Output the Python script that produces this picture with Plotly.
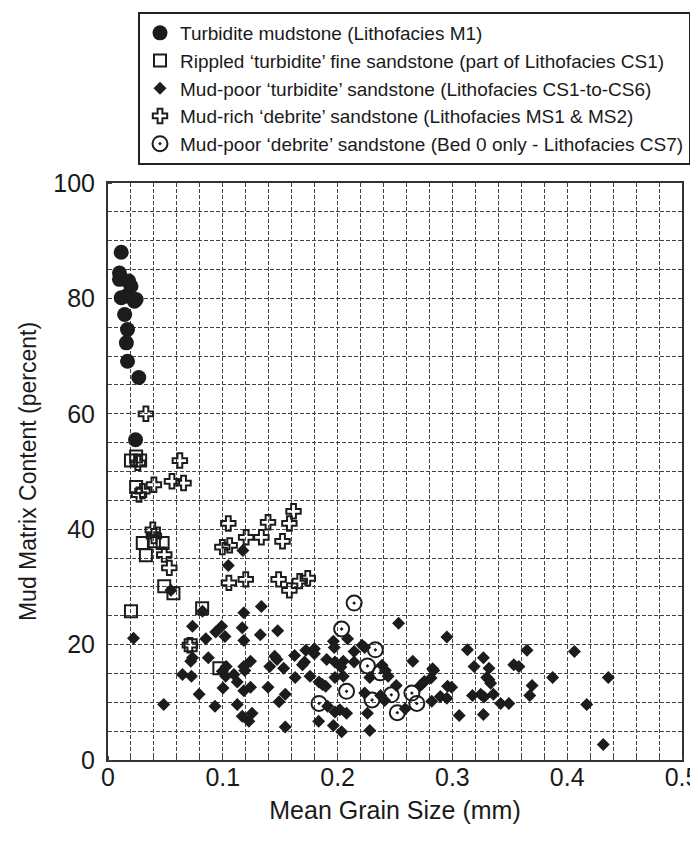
import plotly.graph_objects as go

# --- Data ---
m1_x = [0.0115, 0.010, 0.010, 0.018, 0.020, 0.023, 0.0245, 0.0115, 0.016, 0.0145, 0.017, 0.016, 0.017, 0.0268, 0.024]
m1_y = [88.0, 84.4, 83.3, 83.0, 82.1, 79.5, 79.8, 80.1, 80.4, 77.2, 74.6, 72.3, 69.1, 66.3, 55.5]

cs1_x = [0.020, 0.028, 0.0245, 0.0245, 0.0303, 0.0476, 0.040, 0.033, 0.049, 0.057, 0.020, 0.082, 0.072, 0.097]
cs1_y = [51.9, 51.9, 52.6, 47.3, 37.6, 37.6, 37.9, 35.5, 30.1, 28.9, 25.8, 26.3, 19.9, 15.9]

cs16_x = [0.1175, 0.1048, 0.0548, 0.0222, 0.0823, 0.1183, 0.1336, 0.0736, 0.099, 0.0938,
          0.1019, 0.0852, 0.1169, 0.1183, 0.1327, 0.1478, 0.0736, 0.0721, 0.0874, 0.0649,
          0.0727, 0.0794, 0.0485, 0.0932, 0.103, 0.0996, 0.1025, 0.1097, 0.1126, 0.1002,
          0.1183, 0.1192, 0.1241, 0.1183, 0.1241, 0.1126, 0.1169, 0.1255, 0.1227, 0.1452,
          0.1472, 0.1409, 0.153, 0.1625, 0.163, 0.1394, 0.1544, 0.149, 0.1544,
          0.2531, 0.1963, 0.1971, 0.2087, 0.2214, 0.2236, 0.2144, 0.1723, 0.1798, 0.1798,
          0.1712, 0.1694, 0.1905, 0.1977, 0.205, 0.2029, 0.2144, 0.176, 0.1977, 0.205,
          0.1838, 0.1868, 0.1896, 0.1913, 0.1977, 0.202, 0.2078, 0.1835, 0.1963, 0.2035,
          0.226, 0.228, 0.2236, 0.228, 0.2375, 0.2387, 0.2416, 0.244, 0.241, 0.2511,
          0.2589, 0.2655, 0.2721, 0.2742, 0.2756, 0.2814, 0.2828, 0.2837, 0.282, 0.2895,
          0.2952, 0.2958, 0.2993, 0.2952, 0.3059, 0.3131, 0.3175, 0.3189,
          0.327, 0.3319, 0.3299, 0.3319, 0.3333, 0.3247, 0.3276, 0.3357, 0.327, 0.342,
          0.3492, 0.3535, 0.3579, 0.365, 0.3694, 0.3674, 0.3873, 0.4063, 0.417, 0.4358, 0.4314]
cs16_y = [36.3, 33.7, 29.4, 21.1, 25.8, 25.5, 26.6, 23.2, 23.2, 22.2,
          21.4, 21.0, 22.9, 20.7, 21.7, 22.4, 17.7, 17.1, 17.7, 14.8,
          14.5, 11.4, 9.6, 9.3, 16.2, 15.4, 14.5, 14.8, 13.5, 12.5,
          16.2, 15.5, 17.1, 12.0, 12.6, 9.6, 7.6, 8.1, 6.7, 18.0,
          17.4, 16.2, 15.9, 18.1, 14.3, 12.6, 11.4, 10.1, 5.7,
          23.7, 20.6, 19.5, 21.0, 19.9, 19.5, 18.8, 19.0, 19.3, 18.4,
          17.0, 16.5, 17.4, 17.0, 17.1, 16.1, 17.0, 14.5, 14.3, 14.5,
          13.5, 13.1, 12.8, 9.3, 8.3, 8.7, 8.1, 6.7, 6.0, 4.9,
          8.1, 5.1, 11.6, 14.3, 11.2, 16.4, 15.5, 14.5, 10.3, 12.9,
          8.9, 17.1, 12.9, 13.3, 13.6, 14.2, 15.8, 15.5, 10.2, 11.0,
          10.7, 12.8, 12.6, 21.3, 7.7, 19.1, 11.2, 16.2,
          17.7, 15.9, 14.3, 13.9, 13.3, 11.4, 10.9, 11.4, 7.9, 9.8,
          9.8, 16.5, 16.2, 19.0, 12.9, 11.2, 14.3, 18.8, 9.6, 14.3, 2.7]

ms_x = [0.033, 0.0626, 0.026, 0.0557, 0.0658, 0.040, 0.030, 0.027, 0.039, 0.040, 0.049, 0.0534,
        0.1048, 0.1203, 0.1336, 0.1394, 0.1616, 0.158, 0.152, 0.0996, 0.106, 0.1053, 0.120,
        0.1486, 0.158, 0.167, 0.174, 0.0713]
ms_y = [60.0, 51.9, 51.5, 48.3, 48.0, 47.7, 46.6, 46.0, 39.9, 38.8, 35.6, 33.3,
        41.0, 38.6, 38.6, 41.2, 43.1, 41.0, 37.9, 36.9, 37.2, 30.7, 31.3,
        31.3, 29.4, 31.0, 31.5, 19.9]

cs7_x = [0.2144, 0.2035, 0.2329, 0.226, 0.2372, 0.2078, 0.1838, 0.230, 0.2468, 0.252, 0.2647, 0.269]
cs7_y = [27.2, 22.7, 19.1, 16.3, 15.1, 11.9, 9.8, 10.4, 11.3, 8.2, 11.6, 9.8]

x_ticks = [0, 0.1, 0.2, 0.3, 0.4, 0.5]
x_ticklabels = ["0", "0.1", "0.2", "0.3", "0.4", "0.5"]
y_ticks = [0, 20, 40, 60, 80, 100]
y_ticklabels = ["0", "20", "40", "60", "80", "100"]

names = [
    "Turbidite mudstone (Lithofacies M1)",
    "Rippled ‘turbidite’ fine sandstone (part of Lithofacies CS1)",
    "Mud-poor ‘turbidite’ sandstone (Lithofacies CS1-to-CS6)",
    "Mud-rich ‘debrite’ sandstone (Lithofacies MS1 & MS2)",
    "Mud-poor ‘debrite’ sandstone (Bed 0 only - Lithofacies CS7)",
]

INK = "#1c1c1c"
fig = go.Figure()
fig.add_trace(go.Scatter(x=m1_x, y=m1_y, mode="markers", name=names[0], legendgroup="g0",
                         marker=dict(symbol="circle", size=15, color=INK)))
fig.add_trace(go.Scatter(x=cs1_x, y=cs1_y, mode="markers", name=names[1], legendgroup="g1",
                         marker=dict(symbol="square-open", size=12, color=INK, line=dict(width=2, color=INK))))
fig.add_trace(go.Scatter(x=cs16_x, y=cs16_y, mode="markers", name=names[2], legendgroup="g2",
                         marker=dict(symbol="diamond", size=10, color=INK)))
fig.add_trace(go.Scatter(x=ms_x, y=ms_y, mode="markers", name=names[3], legendgroup="g3",
                         marker=dict(symbol="cross-open", size=12, color=INK, line=dict(width=2, color=INK))))
fig.add_trace(go.Scatter(x=cs7_x, y=cs7_y, mode="markers", name=names[4], legendgroup="g4",
                         marker=dict(symbol="circle-open-dot", size=15, color=INK, line=dict(width=2, color=INK))))

FONT = "Liberation Sans, Arial, sans-serif"
grid_common = dict(gridcolor="#444", griddash="4px,2px", gridwidth=1.3)

L, R, T, B = 100, 24, 175, 99
W, H = 698, 851
pw, ph = W - L - R, H - T - B

fig.update_layout(
    width=W, height=H,
    margin=dict(l=L, r=R, t=T, b=B, autoexpand=False),
    paper_bgcolor="white", plot_bgcolor="white",
    font=dict(family=FONT, color="#1a1a1a", size=25),
    showlegend=True,
    legend=dict(
        x=(130 - L) / pw, y=1 + (T - 4) / ph, xref="paper", yref="paper",
        xanchor="left", yanchor="top",
        bgcolor="white", bordercolor="#222", borderwidth=2,
        font=dict(family=FONT, size=19, color="#1a1a1a"),
        itemwidth=30, traceorder="grouped", tracegroupgap=0,
    ),
    xaxis=dict(
        range=[0, 0.5], tickmode="array", tickvals=x_ticks, ticktext=x_ticklabels,
        ticklabeloverflow="allow",
        showgrid=True, **grid_common,
        minor=dict(dtick=0.02, tick0=0, showgrid=True, **grid_common, ticks="inside", ticklen=4, tickcolor="#444"),
        showline=True, linecolor="#333", linewidth=2, mirror=True,
        ticks="", zeroline=False,
        title=dict(text="Mean Grain Size (mm)", font=dict(size=25), standoff=11),
        ticklabelstandoff=-6,
    ),
    yaxis=dict(
        range=[0, 100], tickmode="array", tickvals=y_ticks, ticktext=y_ticklabels,
        ticklabeloverflow="allow",
        showgrid=True, **grid_common,
        minor=dict(dtick=5, tick0=0, showgrid=True, **grid_common, ticks="inside", ticklen=4, tickcolor="#444"),
        showline=True, linecolor="#333", linewidth=2, mirror=True,
        ticks="", zeroline=False,
        title=dict(text="Mud Matrix Content (percent)", font=dict(size=23), standoff=10),
        ticklabelstandoff=6,
    ),
)

fig.write_html("out.html")
